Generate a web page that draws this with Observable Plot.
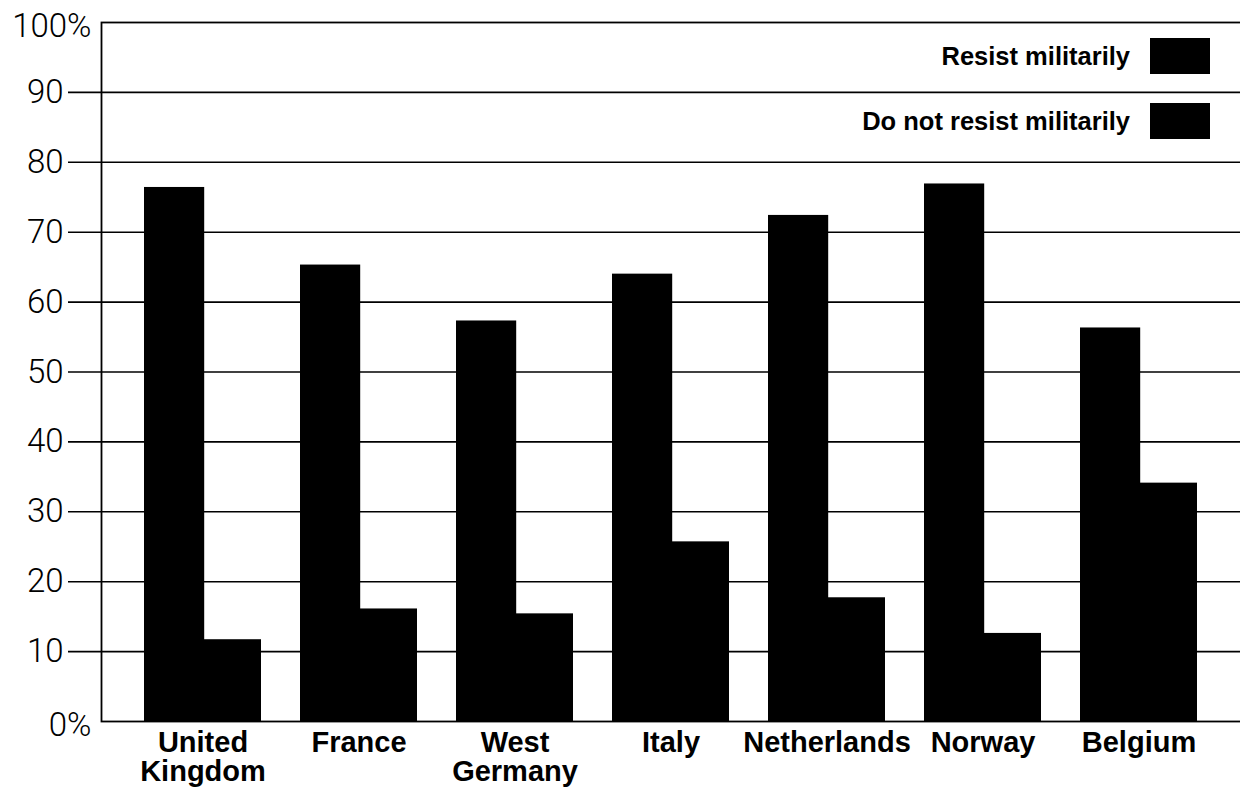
<!DOCTYPE html>
<html>
<head>
<meta charset="utf-8">
<script src="https://cdn.jsdelivr.net/npm/d3@7"></script>
<script src="https://cdn.jsdelivr.net/npm/@observablehq/plot@0.6"></script>
<style>
  html, body { margin: 0; padding: 0; background: #fff; }
  #wrap { position: relative; width: 1240px; height: 791px; overflow: hidden; }
  #legend { position: absolute; top: 38px; right: 30px; font-family: "Liberation Sans", Arial, sans-serif; font-weight: bold; font-size: 25.5px; color: #000; }
  .item { display: flex; align-items: center; justify-content: flex-end; height: 36px; margin-bottom: 29px; }
  .sw { width: 60px; height: 36px; background: #000; margin-left: 20px; }
</style>
</head>
<body>
<div id="wrap"></div>
<script>
const countries = ["United Kingdom", "France", "West Germany", "Italy", "Netherlands", "Norway", "Belgium"];
const countryLabels = ["United\nKingdom", "France", "West\nGermany", "Italy", "Netherlands", "Norway", "Belgium"];
const resist = [76.4, 65.3, 57.3, 64.0, 72.4, 76.9, 56.3];
const notResist = [11.7, 16.1, 15.4, 25.7, 17.7, 12.6, 34.1];
const seriesNames = ["Resist militarily", "Do not resist militarily"];
const innerTicks = [10, 20, 30, 40, 50, 60, 70, 80, 90];
const endTicks = [0, 100];
const endTickLabels = ["0%", "100%"];

const resistData = countries.map((c, i) => ({country: c, value: resist[i]}));
const notData = countries.map((c, i) => ({country: c, value: notResist[i]}));
const labelData = countries.map((c, i) => ({country: c, label: countryLabels[i]}));
const endData = endTicks.map((t, i) => ({t, label: endTickLabels[i]}));

const half = 58.8;
const numFont = "Roboto, 'Liberation Sans', sans-serif";

const chart = Plot.plot({
  width: 1240,
  height: 791,
  marginTop: 22,
  marginBottom: 70,
  marginLeft: 101,
  marginRight: -3,
  style: {background: "#fff", overflow: "visible"},
  x: {domain: countries, range: [141, 1200], paddingInner: 0.25, paddingOuter: 0, axis: null},
  y: {domain: [0, 100], axis: null},
  marks: [
    Plot.ruleY(innerTicks, {y: d => d, stroke: "#000", strokeWidth: 1.6, insetLeft: -33}),
    Plot.barY(notData, {x: "country", y: "value", fill: "#000", insetLeft: half - 2, insetRight: 0}),
    Plot.barY(resistData, {x: "country", y: "value", fill: "#000", insetRight: half - 2, insetLeft: 0}),
    Plot.frame({stroke: "#000", strokeWidth: 1.8}),
    Plot.text(innerTicks, {y: d => d, text: d => String(d), frameAnchor: "left", textAnchor: "end", dx: -38, fontSize: 33, fontWeight: 300, fontFamily: numFont, fill: "#000"}),
    Plot.text(endData, {y: "t", text: "label", frameAnchor: "left", textAnchor: "end", dx: -10, dy: 4, fontSize: 33, fontWeight: 300, fontFamily: numFont, fill: "#000"}),
    Plot.text(labelData, {x: "country", text: "label", frameAnchor: "bottom", lineAnchor: "top", dy: 10, lineHeight: 1.0, fontSize: 29, fontWeight: "bold", fontFamily: "'Liberation Sans', Arial, sans-serif", fill: "#000"})
  ]
});

const wrap = document.getElementById("wrap");
wrap.appendChild(chart);

const legend = document.createElement("div");
legend.id = "legend";
seriesNames.forEach(name => {
  const item = document.createElement("div");
  item.className = "item";
  const t = document.createElement("span");
  t.textContent = name;
  const sw = document.createElement("span");
  sw.className = "sw";
  item.appendChild(t);
  item.appendChild(sw);
  legend.appendChild(item);
});
wrap.appendChild(legend);
</script>
</body>
</html>
